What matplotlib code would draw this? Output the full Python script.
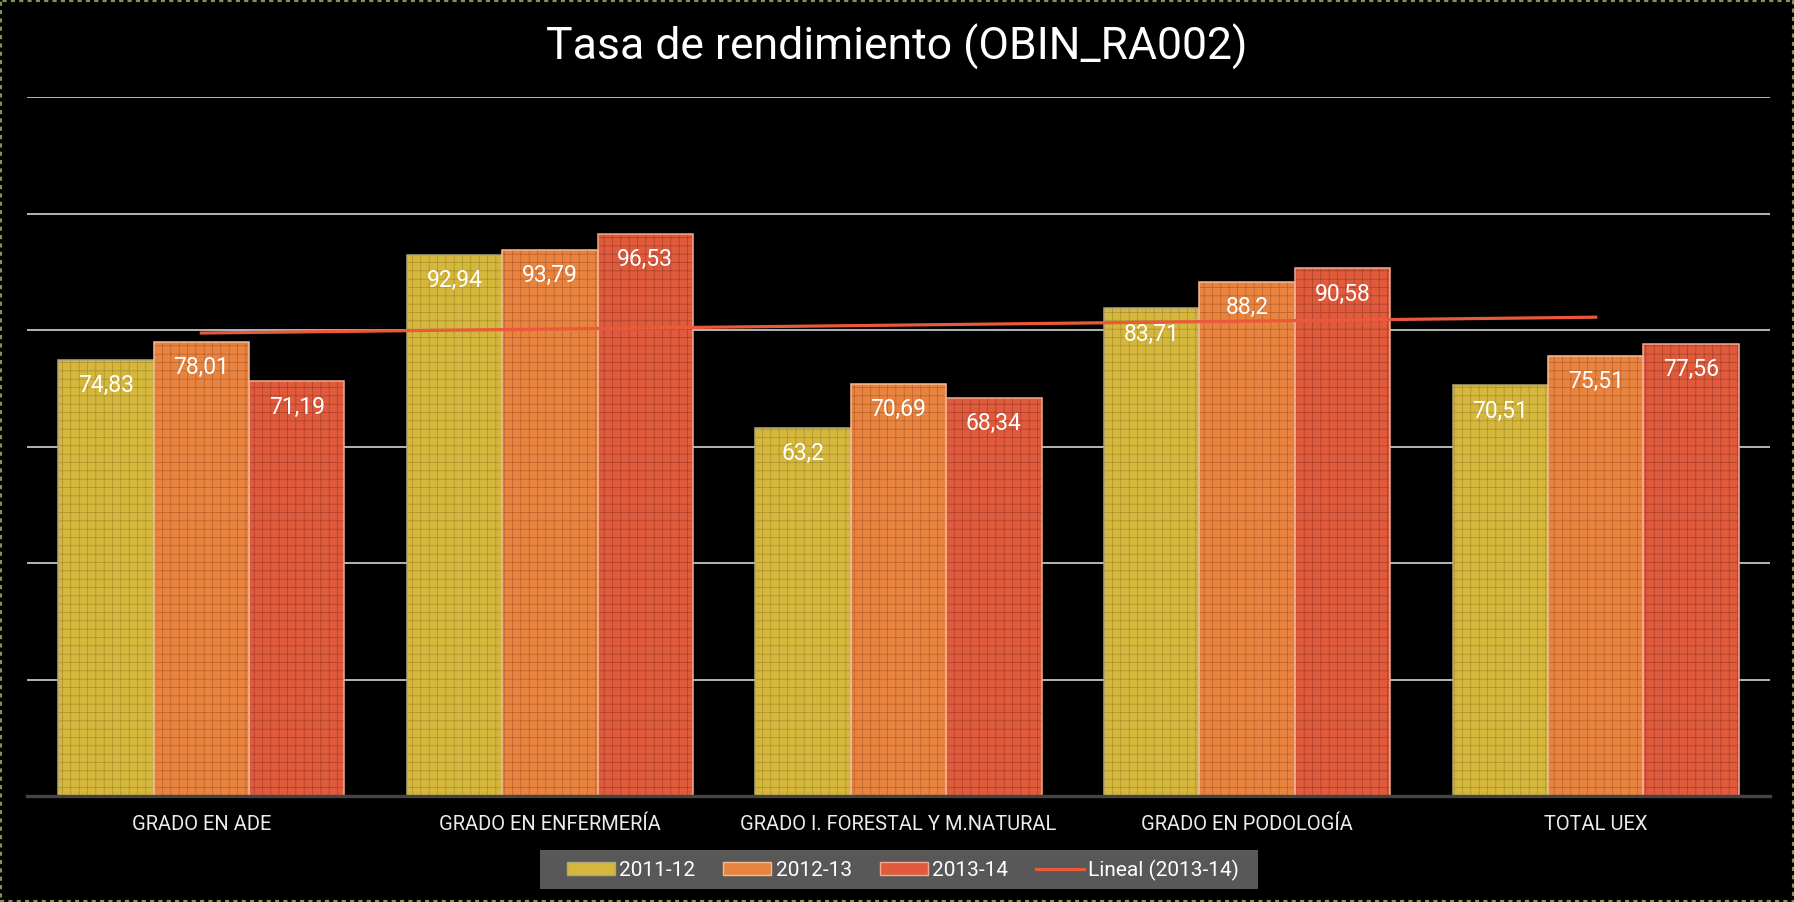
import numpy as np
import matplotlib
matplotlib.use("Agg")
import matplotlib.pyplot as plt
from matplotlib.patches import Patch, Rectangle
from matplotlib.lines import Line2D

categories = ["GRADO EN ADE", "GRADO EN ENFERMERÍA", "GRADO I. FORESTAL Y M.NATURAL",
              "GRADO EN PODOLOGÍA", "TOTAL UEX"]
series_names = ["2011-12", "2012-13", "2013-14"]
v_2011_12 = [74.83, 92.94, 63.2, 83.71, 70.51]
v_2012_13 = [78.01, 93.79, 70.69, 88.2, 75.51]
v_2013_14 = [71.19, 96.53, 68.34, 90.58, 77.56]
label_2011_12 = ["74,83", "92,94", "63,2", "83,71", "70,51"]
label_2012_13 = ["78,01", "93,79", "70,69", "88,2", "75,51"]
label_2013_14 = ["71,19", "96,53", "68,34", "90,58", "77,56"]
trend_name = "Lineal (2013-14)"
title = "Tasa de rendimiento (OBIN_RA002)"

values = [v_2011_12, v_2012_13, v_2013_14]
labels = [label_2011_12, label_2012_13, label_2013_14]
face_colors = ["#d4b73c", "#e8843f", "#e05a3c"]
hatch_colors = ["#a88f2c", "#b8602c", "#a8402c"]
edge_colors = ["#b0a67a", "#f6bc94", "#f2aa92"]

plt.rcParams["hatch.linewidth"] = 0.5
roboto = ["Roboto", "DejaVu Sans"]

fig = plt.figure(figsize=(17.94, 9.02), dpi=100, facecolor="black")
ax = fig.add_axes([27 / 1794, 1 - 796 / 902, (1770 - 27) / 1794, (796 - 97) / 902])
ax.set_facecolor("black")

x = np.arange(len(categories))
w = 0.2735
offsets = [-w, 0, w]

for i in range(3):
    ax.bar(x + offsets[i], values[i], width=w, color=face_colors[i],
           edgecolor=hatch_colors[i], hatch="++", linewidth=0, zorder=2)
    ax.bar(x + offsets[i], values[i], width=w, facecolor="none",
           edgecolor=edge_colors[i], linewidth=1.1, zorder=3)
    for xi, v, lab in zip(x + offsets[i], values[i], labels[i]):
        ax.annotate(lab, (xi, v), xytext=(0, -18.5), textcoords="offset points",
                    ha="center", va="center", color="white", fontsize=16.5,
                    family=roboto, zorder=5)

# linear trendline of 2013-14
coef = np.polyfit(x, v_2013_14, 1)
ax.plot(x, np.polyval(coef, x), color="#ea5a3a", linewidth=2.3, zorder=4)

ax.set_xlim(-0.5, len(categories) - 0.5)
ax.set_ylim(0, 120)
ax.set_yticks(np.arange(20, 121, 20))
ax.yaxis.grid(True, color="#c4c4c4", linewidth=1.3, zorder=0)
ax.set_axisbelow(True)
ax.tick_params(axis="y", left=False, labelleft=False)
ax.set_xticks(x)
ax.set_xticklabels(categories, fontsize=14.5, color="#ececec", family=roboto)
ax.tick_params(axis="x", length=0, pad=14)
for s in ["left", "right", "top"]:
    ax.spines[s].set_visible(False)
ax.spines["bottom"].set_color("#444444")
ax.spines["bottom"].set_linewidth(2.4)
ax.spines["bottom"].set_zorder(6)

fig.text(0.5, 1 - 47 / 902, title, ha="center", va="center", color="white",
         fontsize=32, family=roboto)

# legend background box
fig.patches.append(Rectangle((540 / 1794, 1 - 889 / 902), (1258 - 540) / 1794, 39 / 902,
                             transform=fig.transFigure, facecolor="#585858",
                             edgecolor="none", zorder=1))
handles = [Patch(facecolor=face_colors[i], edgecolor=edge_colors[i], linewidth=1.0)
           for i in range(3)]
handles.append(Line2D([0], [0], color="#ea5a3a", linewidth=2.3))
leg = fig.legend(handles, series_names + [trend_name], loc="center",
                 bbox_to_anchor=(903 / 1794, 1 - 870 / 902), ncol=4,
                 frameon=False, prop={"family": "Roboto", "size": 15},
                 handlelength=2.3, handleheight=0.6, handletextpad=0.2,
                 columnspacing=1.35, borderpad=0.4)
for t in leg.get_texts():
    t.set_color("white")

fig.patches.append(Rectangle((0, 0), 1, 1, transform=fig.transFigure, fill=False,
                             edgecolor="#7a9650", linewidth=3, linestyle=(0, (1, 1)),
                             zorder=10))

fig.savefig("out.png", dpi=100, facecolor="black")
